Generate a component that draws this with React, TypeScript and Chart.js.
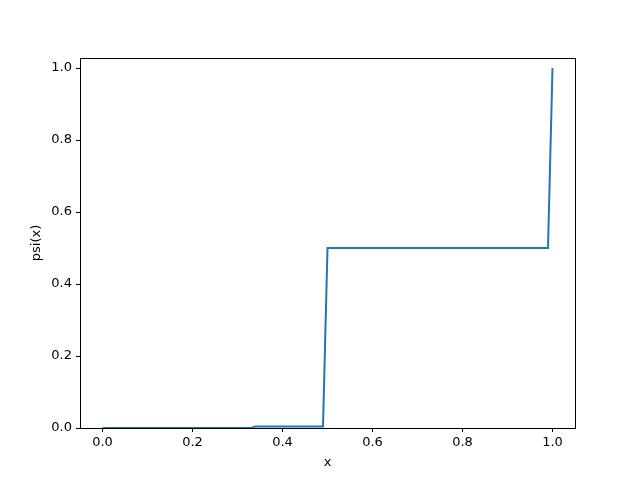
import React, { useEffect, useRef } from "react";
import { Chart, registerables } from "chart.js";

Chart.register(...registerables);

const xValues = [0.0, 0.33, 0.34, 0.49, 0.5, 0.99, 1.0];
const psiValues = [0.0, 0.0, 0.004, 0.004, 0.5, 0.5, 1.0];
const xTicks = [0.0, 0.2, 0.4, 0.6, 0.8, 1.0];
const yTicks = [0.0, 0.2, 0.4, 0.6, 0.8, 1.0];

const FONT = "'DejaVu Sans', sans-serif";

const framePlugin = {
  id: "frame",
  afterDraw(chart: any) {
    const { ctx, chartArea } = chart;
    ctx.save();
    ctx.strokeStyle = "#000";
    ctx.lineWidth = 1;
    ctx.strokeRect(
      Math.round(chartArea.left) + 0.5,
      Math.round(chartArea.top) + 0.5,
      Math.round(chartArea.right - chartArea.left),
      Math.round(chartArea.bottom - chartArea.top)
    );
    ctx.restore();
  },
};

export default function App() {
  const ref = useRef<HTMLCanvasElement>(null);
  useEffect(() => {
    document.body.style.margin = "0";
    const data = xValues.map((x, i) => ({ x, y: psiValues[i] }));
    const chart = new Chart(ref.current!, {
      type: "line",
      data: {
        datasets: [
          {
            data,
            borderColor: "#1f77b4",
            borderWidth: 2,
            pointRadius: 0,
            fill: false,
            tension: 0,
          },
        ],
      },
      options: {
        animation: false,
        responsive: false,
        devicePixelRatio: 1,
        layout: { padding: { top: 58, right: 65, left: 0, bottom: 0 } },
        plugins: { legend: { display: false }, tooltip: { enabled: false } },
        scales: {
          x: {
            type: "linear",
            min: -0.05,
            max: 1.05,
            afterBuildTicks: (s: any) => {
              s.ticks = xTicks.map((v) => ({ value: v }));
            },
            afterFit: (s: any) => {
              s.height = 52;
            },
            grid: { drawOnChartArea: false, drawTicks: true, tickLength: 4, color: "#000" },
            border: { display: true, color: "#000" },
            ticks: {
              color: "#000",
              padding: 3,
              font: { family: FONT, size: 13 },
              callback: (v: any) => Number(v).toFixed(1),
              maxRotation: 0,
            },
            title: {
              display: true,
              text: "x",
              color: "#000",
              font: { family: FONT, size: 13 },
              padding: { top: 0, bottom: 10 },
            },
          },
          y: {
            type: "linear",
            min: 0,
            max: 1.028,
            afterBuildTicks: (s: any) => {
              s.ticks = yTicks.map((v) => ({ value: v }));
            },
            afterFit: (s: any) => {
              s.width = 80;
            },
            grid: { drawOnChartArea: false, drawTicks: true, tickLength: 4, color: "#000" },
            border: { display: true, color: "#000" },
            ticks: {
              color: "#000",
              padding: 4,
              font: { family: FONT, size: 13 },
              callback: (v: any) => Number(v).toFixed(1),
            },
            title: {
              display: true,
              text: "psi(x)",
              color: "#000",
              font: { family: FONT, size: 13 },
              padding: { top: 29, bottom: 0 },
            },
          },
        },
      },
      plugins: [framePlugin],
    });
    return () => chart.destroy();
  }, []);
  return (
    <div style={{ width: 640, height: 480, background: "#fff" }}>
      <canvas ref={ref} width={640} height={480} style={{ display: "block" }} />
    </div>
  );
}
